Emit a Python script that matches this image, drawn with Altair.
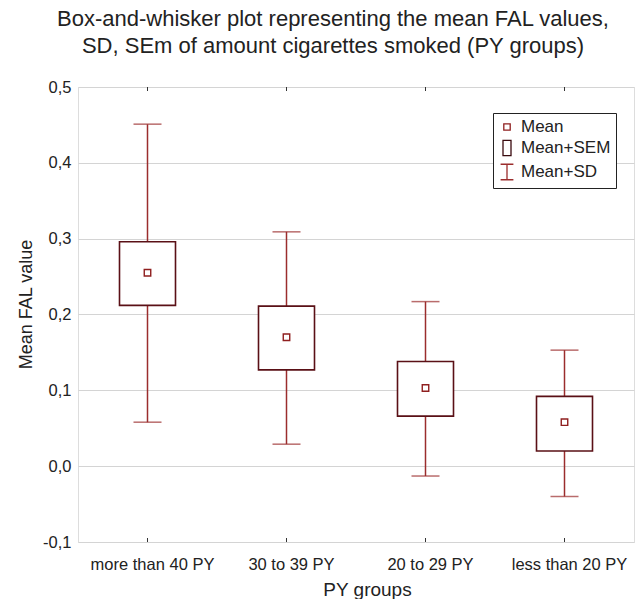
import altair as alt
import pandas as pd

# ---- data ----
groups = ["more than 40 PY", "30 to 39 PY", "20 to 29 PY", "less than 20 PY"]
mean = [0.255, 0.170, 0.103, 0.058]
sem_low = [0.212, 0.127, 0.066, 0.020]
sem_high = [0.296, 0.211, 0.138, 0.092]
sd_low = [0.058, 0.029, -0.013, -0.040]
sd_high = [0.451, 0.309, 0.217, 0.153]

y_ticks = [-0.1, 0.0, 0.1, 0.2, 0.3, 0.4, 0.5]
legend_items = ["Mean", "Mean+SEM", "Mean+SD"]

df = pd.DataFrame({
    "group": groups, "mean": mean,
    "sem_low": sem_low, "sem_high": sem_high,
    "sd_low": sd_low, "sd_high": sd_high,
})
tick_df = pd.DataFrame({"group": groups})
legend_df = pd.DataFrame({"item": legend_items})

FONT = "Liberation Sans"
WHISKER = "#9b2d2d"
BOX = "#5a1016"
MEANC = "#8f1f1f"
W, H = 556, 455
YT = "Mean FAL value"
XT = "PY groups"

xscale = alt.Scale(domain=groups, paddingInner=0, paddingOuter=0)
yscale = alt.Scale(domain=[-0.1, 0.5], nice=False, zero=False)

x_enc = alt.X(
    "group:N", sort=groups, scale=xscale, title=XT,
    axis=alt.Axis(
        ticks=False, domain=False, grid=False, labelPadding=14, labelOffset=5,
        labelFontSize=16.5, labelColor="#222", labelAngle=0, labelFont=FONT,
        titleFontSize=19, titleFont=FONT, titleColor="#222", titleFontWeight="normal",
        titleX=289, titleY=53, titleAlign="center", titleBaseline="alphabetic",
    ),
)
xs = alt.X("group:N", sort=groups, scale=xscale, title=XT)

y_axis = alt.Axis(
    values=y_ticks,
    labelExpr="replace(replace(format(datum.value, '.1f'), '.', ','), '\u2212', '-')",
    ticks=False, domain=False, grid=True, gridColor="#d4d4d4", gridWidth=1.2,
    labelPadding=7, labelFontSize=16.5, labelColor="#222", labelFont=FONT,
    titleFontSize=18, titleFont=FONT, titleColor="#222", titleFontWeight="normal",
    titleX=-52, titleY=217, titleAngle=-90, titleAlign="center", titleBaseline="middle",
)

whisk = alt.Chart(df).mark_rule(color=WHISKER, strokeWidth=1.5).encode(
    x=x_enc,
    y=alt.Y("sd_low:Q", scale=yscale, axis=y_axis, title=YT),
    y2="sd_high:Q",
)
cap_lo = alt.Chart(df).mark_tick(color=WHISKER, size=28, thickness=1.5).encode(
    x=xs, y=alt.Y("sd_low:Q", scale=yscale, title=YT)
)
cap_hi = alt.Chart(df).mark_tick(color=WHISKER, size=28, thickness=1.5).encode(
    x=xs, y=alt.Y("sd_high:Q", scale=yscale, title=YT)
)
box = alt.Chart(df).mark_bar(size=56, fill="white", stroke=BOX, strokeWidth=1.6).encode(
    x=xs, y=alt.Y("sem_low:Q", scale=yscale, title=YT), y2="sem_high:Q"
)
mpt = alt.Chart(df).mark_square(size=42, filled=False, color=MEANC, strokeWidth=1.4, opacity=1).encode(
    x=xs, y=alt.Y("mean:Q", scale=yscale, title=YT)
)

# inward axis ticks on bottom and top frame
tick_b = alt.Chart(tick_df).mark_rule(color="#333", strokeWidth=1).encode(
    x=xs, y=alt.datum(-0.1), y2=alt.value(H - 4)
)
tick_t = alt.Chart(tick_df).mark_rule(color="#333", strokeWidth=1).encode(
    x=xs, y=alt.datum(0.5), y2=alt.value(4)
)

legend_paths = [
    "M-0.4,-0.4H0.4V0.4H-0.4Z",
    "M-0.5,-0.95H0.5V0.95H-0.5Z",
    "M-0.8,-0.97H0.8M0,-0.97V0.97M-0.8,0.97H0.8",
]
legend_colors = [MEANC, "#3a0a0e", WHISKER]
leg = alt.Legend(
    title=None, orient="none", legendX=415, legendY=26,
    strokeColor="#222", fillColor="white", padding=5,
    labelFontSize=17, labelFont=FONT, labelColor="#222", labelOffset=5, labelLimit=300,
    symbolSize=256, symbolStrokeWidth=1.3, symbolOpacity=1, rowPadding=2,
)
legend_layer = alt.Chart(legend_df).mark_point(filled=False, opacity=0, strokeWidth=1.3).encode(
    shape=alt.Shape("item:N", sort=legend_items,
                    scale=alt.Scale(domain=legend_items, range=legend_paths), legend=leg),
    color=alt.Color("item:N", sort=legend_items,
                    scale=alt.Scale(domain=legend_items, range=legend_colors), legend=leg),
)

chart = alt.layer(whisk, box, cap_lo, cap_hi, mpt, tick_b, tick_t, legend_layer).properties(
    width=W, height=H,
    autosize=alt.AutoSizeParams(type="none"),
    padding={"left": 78, "top": 87, "right": 6, "bottom": 57},
    title=alt.TitleParams(
        text=["Box-and-whisker plot representing the mean FAL values,",
              "SD, SEm of amount cigarettes smoked (PY groups)"],
        fontSize=22, font=FONT, color="#222", fontWeight="normal",
        anchor="middle", dx=-23, offset=21, lineHeight=27,
    ),
).configure_view(stroke="#222", strokeWidth=1.2).configure(background="white")

chart.save("out.html", embed_options={"renderer": "svg", "actions": False})
